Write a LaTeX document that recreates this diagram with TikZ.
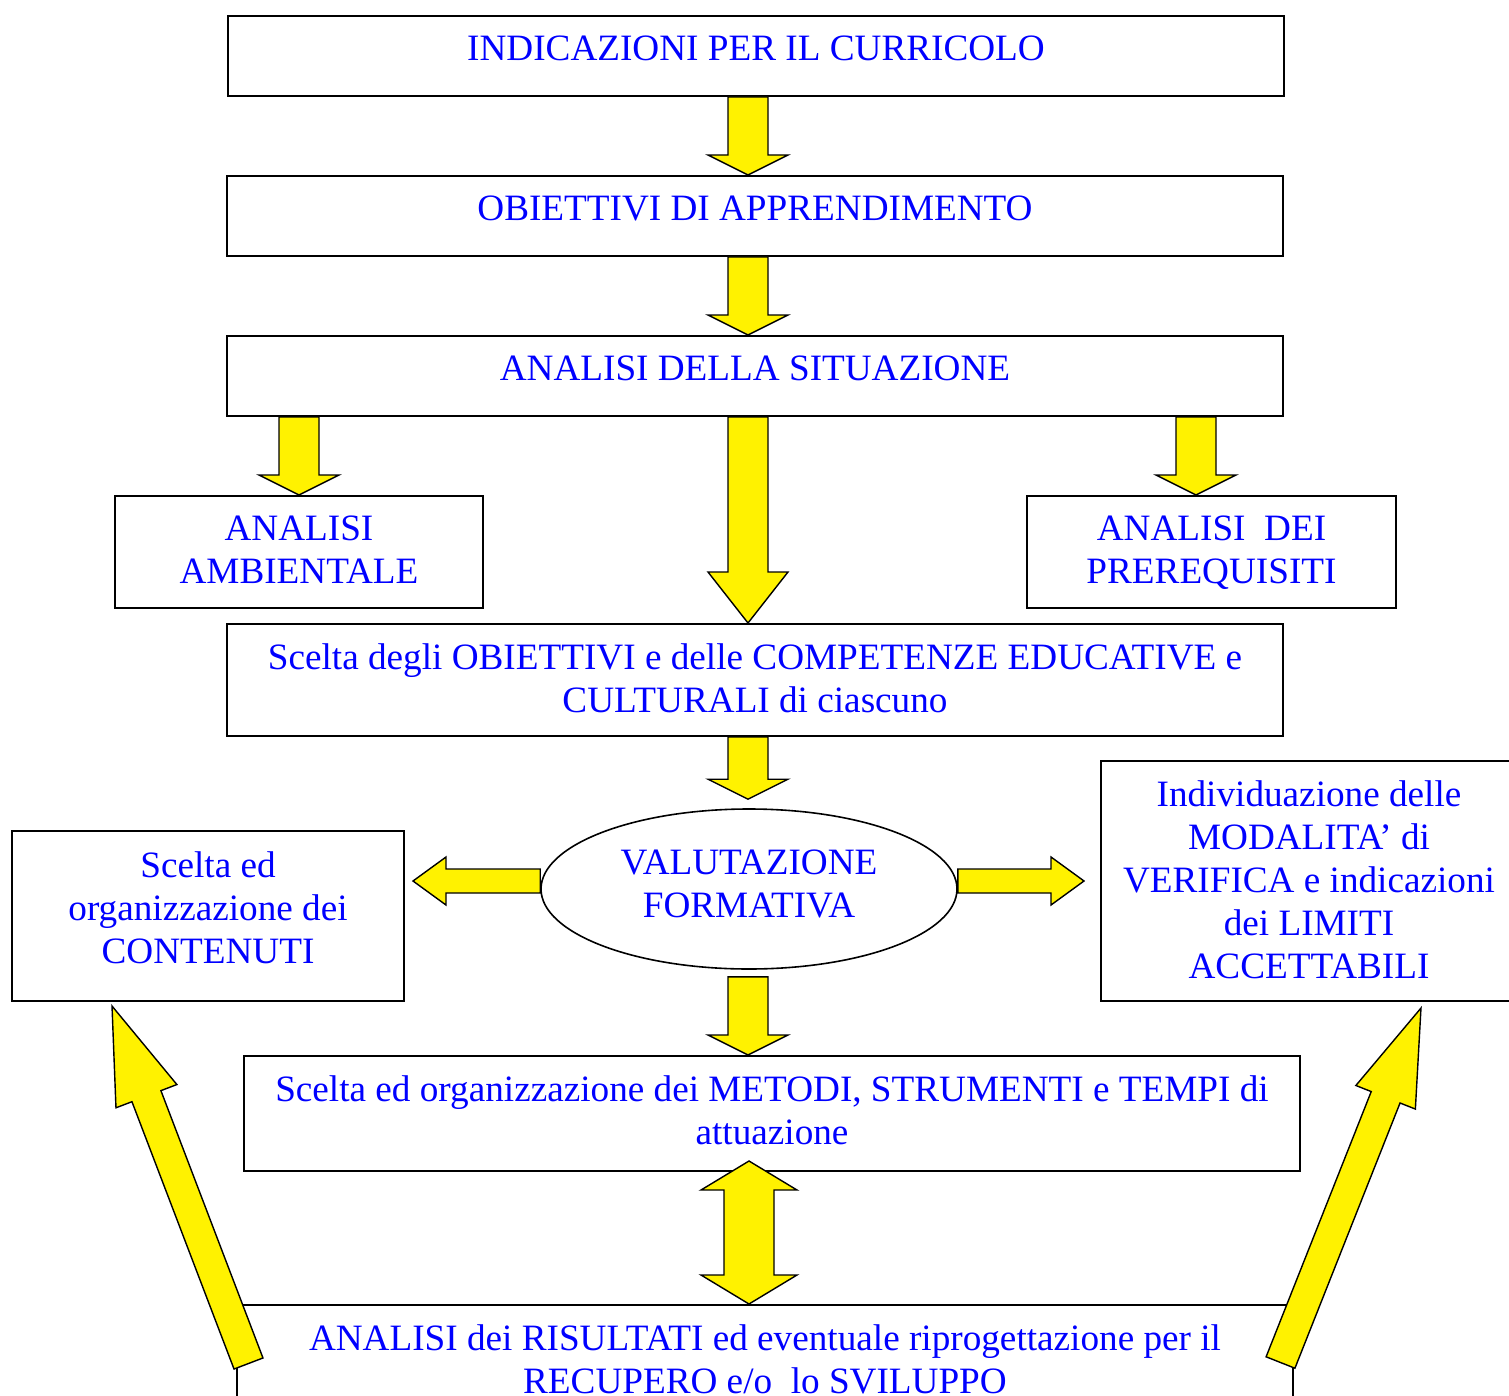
\documentclass[tikz,border=0pt]{standalone}
\usepackage{fontspec}
\setmainfont{Liberation Serif}
\usetikzlibrary{calc,shapes.geometric}

\tikzset{
  box/.style={draw, line width=1pt, inner sep=0pt},
  txt/.style={anchor=north, inner sep=0pt, align=center, text=blue},
  fat/.style={draw, fill=yellow, line width=0.7pt, line join=miter},
}
% block arrow: start, tip, shaft half width, head half width, head length
\newcommand{\fatarrow}[5]{%
  \path[fat] let \p1=(#1), \p2=(#2), \n1={veclen(\x2-\x1,\y2-\y1)}, \n2={atan2(\y2-\y1,\x2-\x1)} in
    [shift={(\p1)}, rotate=\n2] (0pt,-#3) -- (\n1-#5,-#3) -- (\n1-#5,-#4) -- (\n1,0pt)
    -- (\n1-#5,#4) -- (\n1-#5,#3) -- (0pt,#3) -- cycle;
}
\newcommand{\dblfatarrow}[5]{%
  \path[fat] let \p1=(#1), \p2=(#2), \n1={veclen(\x2-\x1,\y2-\y1)}, \n2={atan2(\y2-\y1,\x2-\x1)} in
    [shift={(\p1)}, rotate=\n2] (0pt,0pt) -- (#5,#4) -- (#5,#3) -- (\n1-#5,#3) -- (\n1-#5,#4) -- (\n1,0pt)
    -- (\n1-#5,-#4) -- (\n1-#5,-#3) -- (#5,-#3) -- (#5,-#4) -- cycle;
}

\begin{document}
\begin{tikzpicture}[x=0.5pt, y=-0.5pt, font=\fontsize{18.6pt}{21.5pt}\selectfont]
  \useasboundingbox (0,0) rectangle (1509,1396);

  \node[box, minimum width=528pt, minimum height=40pt] (ind) at (756,56) {};
  \node[box, minimum width=528pt, minimum height=40pt] (obi) at (755,216) {};
  \node[box, minimum width=528pt, minimum height=40pt] (sit) at (755,376) {};
  \node[box, minimum width=184pt, minimum height=56pt] (amb) at (299,552) {};
  \node[box, minimum width=184.5pt, minimum height=56pt] (pre) at (1211.5,552) {};
  \node[box, minimum width=528pt, minimum height=56pt] (sce) at (755,680) {};
  \node[draw, ellipse, line width=0.8pt, inner sep=0pt, minimum width=208pt, minimum height=80pt] (val) at (749,889) {};
  \node[box, minimum width=196pt, minimum height=85pt] (cont) at (208,916) {};
  \node[box, minimum width=208pt, minimum height=120pt] (ver) at (1309,881) {};
  \node[box, minimum width=528pt, minimum height=57.5pt] (met) at (772,1113.5) {};
  \node[box, minimum width=528pt, minimum height=57.5pt] (ris) at (765,1362.5) {};

  \node[txt] (ind-t) at ([yshift=-10.3pt]ind.north) {INDICAZIONI PER IL CURRICOLO};
  \node[txt] (obi-t) at ([yshift=-10.3pt]obi.north) {OBIETTIVI DI APPRENDIMENTO};
  \node[txt] (sit-t) at ([yshift=-10.3pt]sit.north) {ANALISI DELLA SITUAZIONE};
  \node[txt] (amb-t) at ([yshift=-10.3pt]amb.north) {ANALISI\\AMBIENTALE};
  \node[txt] (pre-t) at ([yshift=-10.3pt]pre.north) {ANALISI\ \ DEI\\PREREQUISITI};
  \node[txt] (sce-t) at ([yshift=-10.3pt]sce.north) {Scelta degli OBIETTIVI e delle COMPETENZE EDUCATIVE e\\CULTURALI di ciascuno};
  \node[txt] (val-t) at ([yshift=-20.8pt]val.north) {VALUTAZIONE\\FORMATIVA};
  \node[txt] (cont-t) at ([yshift=-10.8pt]cont.north) {Scelta ed\\organizzazione dei\\CONTENUTI};
  \node[txt] (ver-t) at ([yshift=-10.3pt]ver.north) {Individuazione delle\\MODALITA' di\\VERIFICA e indicazioni\\dei LIMITI\\ACCETTABILI};
  \node[txt] (met-t) at ([yshift=-10.3pt]met.north) {Scelta ed organizzazione dei METODI, STRUMENTI e TEMPI di\\attuazione};
  \node[txt] (ris-t) at ([yshift=-10.3pt]ris.north) {ANALISI dei RISULTATI ed eventuale riprogettazione per il\\RECUPERO e/o\ \ lo SVILUPPO};

  \coordinate (axis) at (748,0);
  \coordinate (prein) at ([xshift=-7.75pt]pre.north);
  \coordinate (vl) at ([yshift=4pt]val.west);
  \coordinate (vr) at ([yshift=4pt]val.east);
  \coordinate (vtop) at ([yshift=4.5pt]val.north);
  \coordinate (vbot) at ([yshift=-3.5pt]val.south);
  \coordinate (dtop) at ($(met.south -| val)+(0,-11)$);
  \coordinate (lt) at ($(ris.north west)+(12.5,59.5)$);
  \coordinate (lh) at ($(cont.south west)+(101,4)$);
  \coordinate (rt) at ($(ris.north east)+(-13.5,58.5)$);
  \coordinate (rh) at ($(ver.south west)+(321,6)$);

  \fatarrow{ind.south -| axis}{obi.north -| axis}{10pt}{20pt}{10pt}
  \fatarrow{obi.south -| axis}{sit.north -| axis}{10pt}{20pt}{10pt}
  \fatarrow{sit.south -| amb}{amb.north}{10pt}{20pt}{10pt}
  \fatarrow{sit.south -| prein}{prein}{10pt}{20pt}{10pt}
  \fatarrow{sit.south -| axis}{sce.north -| axis}{10pt}{20pt}{25.5pt}
  \fatarrow{sce.south -| axis}{vtop -| axis}{10pt}{20pt}{10pt}
  \fatarrow{vl}{$(vl -| cont.east)+(8,0)$}{6pt}{12pt}{16.5pt}
  \fatarrow{vr}{$(vr -| ver.west)+(-16,0)$}{6pt}{12pt}{16.5pt}
  \fatarrow{vbot -| axis}{met.north -| axis}{10pt}{20pt}{10pt}
  \dblfatarrow{ris.north -| val}{dtop}{12.5pt}{24pt}{14.5pt}
  \fatarrow{lt}{lh}{7.75pt}{16.3pt}{48.25pt}
  \fatarrow{rt}{rh}{7.75pt}{16pt}{48pt}
\end{tikzpicture}
\end{document}
